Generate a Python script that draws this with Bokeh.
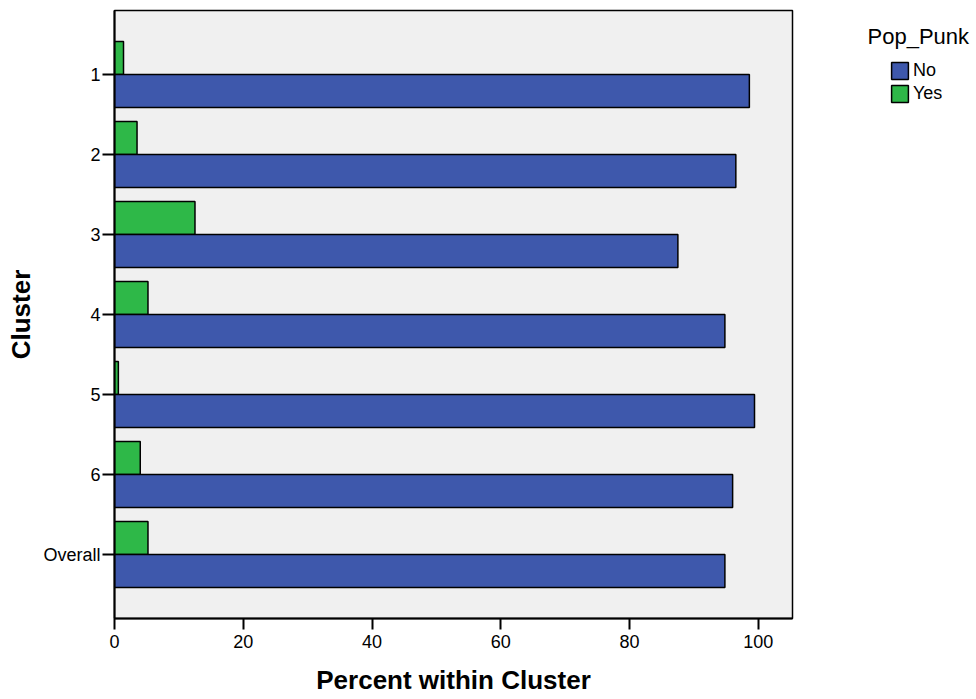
from bokeh.plotting import figure
from bokeh.layouts import row
from bokeh.models import (ColumnDataSource, FactorRange, Range1d, FixedTicker, Legend,
                          LegendItem, Label)
from bokeh.transform import dodge
from bokeh.embed import file_html
from bokeh.resources import INLINE

categories = ["1", "2", "3", "4", "5", "6", "Overall"]
no_pct = [98.6, 96.5, 87.5, 94.8, 99.4, 96.0, 94.8]
yes_pct = [1.4, 3.5, 12.5, 5.2, 0.6, 4.0, 5.2]
x_ticks = [0, 20, 40, 60, 80, 100]
legend_title = "Pop_Punk"
series_names = ["No", "Yes"]

source = ColumnDataSource(dict(cat=categories, no=no_pct, yes=yes_pct))

FONT = "Liberation Sans"
BLUE = "#3E58AC"
GREEN = "#2EB848"

factors = list(reversed(categories))
yr = FactorRange(*factors, range_padding=0.6 / 7, range_padding_units="percent")

H = 699
TOP = 10
BOTTOM = 81
FRAME_H = H - TOP - BOTTOM

p = figure(width=794, height=H, y_range=yr, x_range=Range1d(0, 105.3),
           output_backend="svg", toolbar_location=None,
           min_border_left=114, min_border_top=TOP, min_border_right=2,
           min_border_bottom=BOTTOM)

p.background_fill_color = "#F0F0F0"
p.border_fill_color = "white"
p.outline_line_color = "black"
p.outline_line_width = 1.5
p.grid.visible = False

bar_h = 0.4125
r_yes = p.hbar(y=dodge("cat", bar_h / 2, range=p.y_range), right="yes", left=0,
               height=bar_h, source=source, fill_color=GREEN,
               line_color="black", line_width=1.5)
r_no = p.hbar(y=dodge("cat", -bar_h / 2, range=p.y_range), right="no", left=0,
              height=bar_h, source=source, fill_color=BLUE,
              line_color="black", line_width=1.5)

# x axis
xa = p.xaxis[0]
xa.ticker = FixedTicker(ticks=x_ticks)
xa.minor_tick_line_color = None
xa.major_tick_in = 0
xa.major_tick_out = 11
xa.major_tick_line_width = 2
xa.axis_line_width = 2
xa.major_label_text_font = FONT
xa.major_label_text_font_size = "18px"
xa.major_label_text_color = "black"
xa.major_label_standoff = 5
xa.axis_label = "Percent within Cluster"
xa.axis_label_text_font = FONT
xa.axis_label_text_font_style = "bold"
xa.axis_label_text_font_size = "26px"
xa.axis_label_text_color = "black"
xa.axis_label_standoff = 14

# y axis
ya = p.yaxis[0]
ya.major_tick_in = 0
ya.major_tick_out = 12
ya.major_tick_line_width = 2
ya.axis_line_width = 2
ya.major_label_text_font = FONT
ya.major_label_text_font_size = "18px"
ya.major_label_text_color = "black"
ya.major_label_standoff = 2
ya.axis_label = "Cluster"
ya.axis_label_text_font = FONT
ya.axis_label_text_font_style = "bold"
ya.axis_label_text_font_size = "26px"
ya.axis_label_text_color = "black"
ya.axis_label_standoff = 4

# legend panel (separate figure to the right; its frame aligns with p's frame)
p2 = figure(width=976 - 794, height=H, y_range=FactorRange(*factors),
            x_range=Range1d(0, 105.3), output_backend="svg", toolbar_location=None,
            x_axis_location=None, y_axis_location=None,
            min_border_left=0, min_border_right=0, min_border_top=TOP,
            min_border_bottom=BOTTOM)
p2.outline_line_color = None
p2.grid.visible = False
p2.background_fill_color = "white"

l_no = p2.hbar(y="cat", right="no", left=0, height=bar_h, source=source,
               fill_color=BLUE, line_color="black", line_width=1.5, visible=False)
l_yes = p2.hbar(y="cat", right="yes", left=0, height=bar_h, source=source,
                fill_color=GREEN, line_color="black", line_width=1.5, visible=False)

ITEM_H = 21
SPACING = 2
LEG_H = ITEM_H * 2 + SPACING
legend = Legend(items=[LegendItem(label=series_names[0], renderers=[l_no]),
                       LegendItem(label=series_names[1], renderers=[l_yes])],
                location=(95, FRAME_H - (60 - TOP) - LEG_H), padding=0, margin=0,
                spacing=SPACING, glyph_width=ITEM_H, glyph_height=ITEM_H,
                label_height=ITEM_H, label_standoff=3, label_text_font=FONT,
                label_text_font_size="18px", label_text_color="black",
                border_line_color=None, background_fill_alpha=0,
                inactive_fill_alpha=0)
p2.add_layout(legend)

title = Label(x=73, y=FRAME_H - (36 - TOP), x_units="screen", y_units="screen",
              text=legend_title, text_font=FONT, text_font_size="22px",
              text_baseline="alphabetic", text_color="black")
p2.add_layout(title)

layout = row(p, p2, spacing=0)
open("out.html", "w").write(file_html(layout, INLINE))
